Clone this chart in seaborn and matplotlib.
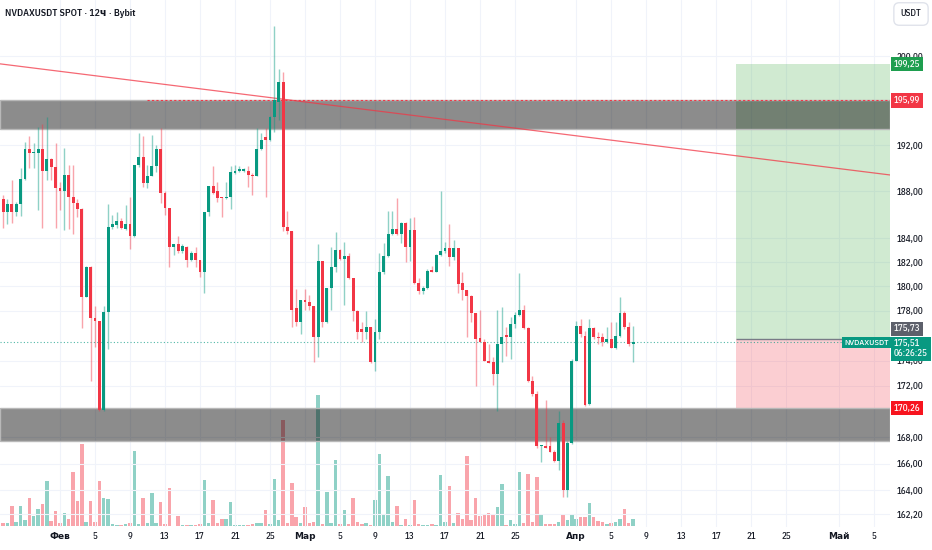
import matplotlib
matplotlib.use('Agg')
import matplotlib.pyplot as plt
import matplotlib.dates as mdates
import numpy as np
import pandas as pd
import seaborn as sns

# 12h candles (USDT)
opens = [187.3, 186.2, 186.9, 186.2, 186.9, 189.1, 191.7, 191.3, 191.3, 191.7,
         189.8, 190.8, 190.1, 188.3, 188.0, 189.4, 187.5, 187.0, 186.5, 179.1,
         181.6, 177.4, 177.2, 170.1, 177.9, 185.0, 185.1, 185.5, 184.8, 185.2,
         184.2, 190.3, 191.0, 188.7, 189.3, 190.2, 191.7, 187.9, 186.6, 183.3,
         183.5, 182.9, 183.3, 182.2, 182.8, 182.2, 181.2, 186.2, 188.5, 188.0,
         187.5, 187.4, 187.5, 189.6, 189.8, 189.8, 189.8, 189.4, 189.3, 191.7,
         192.7, 192.5, 194.5, 195.8, 197.6, 185.0, 184.6, 178.2, 177.1, 178.9,
         178.7, 178.4, 175.9, 182.1, 177.1, 179.9, 181.6, 183.0, 182.3, 182.5,
         180.7, 178.0, 176.5, 176.3, 176.7, 173.9, 176.3, 181.2, 182.5, 184.4,
         184.8, 184.4, 185.3, 183.3, 184.7, 180.3, 179.6, 179.9, 181.3, 181.2,
         182.6, 182.9, 183.2, 182.4, 183.2, 180.3, 179.7, 179.2, 177.8, 175.8,
         175.5, 174.0, 173.9, 172.9, 175.3, 176.0, 175.9, 176.9, 177.7, 178.1,
         176.6, 172.4, 171.4, 167.3, 167.35, 167.3, 166.9, 166.2, 169.1, 164.0,
         167.6, 174.0, 176.8, 176.0, 170.6, 176.6, 175.9, 175.9, 175.5, 175.7,
         175.0, 176.0, 177.8, 176.7, 175.3]
highs = [187.7, 187.3, 189.0, 187.1, 190.0, 192.3, 192.8, 192.2, 193.6, 193.9,
         194.5, 190.9, 192.2, 188.8, 191.8, 190.3, 190.3, 187.3, 186.6, 181.7,
         181.7, 178.4, 177.2, 178.4, 186.9, 186.0, 186.2, 185.7, 186.8, 187.5,
         190.3, 193.1, 192.8, 190.3, 192.9, 192.0, 193.5, 188.0, 186.6, 183.5,
         184.2, 183.5, 183.4, 182.9, 183.3, 182.2, 186.2, 188.5, 190.2, 188.8,
         187.5, 188.8, 190.2, 190.3, 190.2, 190.0, 190.2, 189.6, 193.5, 193.1,
         193.5, 194.6, 202.8, 198.8, 198.5, 186.3, 184.6, 179.8, 178.9, 179.8,
         179.3, 178.4, 183.5, 182.1, 179.9, 183.3, 184.5, 183.1, 183.7, 182.8,
         180.7, 178.1, 177.1, 178.0, 176.7, 177.3, 182.8, 183.6, 186.3, 186.3,
         187.4, 185.4, 185.4, 185.7, 185.8, 180.7, 180.0, 181.4, 181.7, 182.7,
         188.0, 183.7, 185.2, 183.9, 183.2, 181.2, 179.7, 179.3, 177.8, 178.1,
         175.7, 175.3, 174.3, 178.1, 178.3, 176.7, 177.5, 177.9, 181.1, 178.5,
         176.7, 172.8, 171.6, 167.4, 170.9, 168.0, 167.0, 170.0, 169.3, 167.7,
         174.1, 177.2, 177.3, 176.4, 177.3, 176.7, 176.3, 176.2, 176.7, 177.1,
         177.1, 179.1, 178.0, 177.1, 176.8]
lows = [184.9, 185.2, 185.3, 185.9, 185.9, 189.0, 190.0, 190.0, 186.4, 184.9,
        189.0, 189.0, 184.9, 186.4, 184.7, 184.8, 184.4, 185.8, 176.6, 179.1,
        172.4, 175.1, 170.0, 170.0, 174.9, 184.8, 184.9, 184.8, 184.7, 183.1,
        184.1, 190.1, 188.4, 188.3, 189.3, 189.7, 187.0, 186.0, 181.6, 182.6,
        182.8, 182.8, 181.6, 182.1, 181.6, 180.8, 179.5, 185.9, 187.8, 187.1,
        185.8, 187.3, 186.5, 189.5, 189.7, 189.7, 188.4, 187.7, 189.3, 191.6,
        187.5, 192.4, 193.2, 194.2, 184.6, 184.4, 176.7, 176.8, 176.1, 178.1,
        178.1, 173.9, 174.3, 176.7, 177.0, 178.1, 181.2, 182.2, 178.5, 180.6,
        177.2, 175.7, 175.5, 175.7, 173.8, 173.2, 175.7, 181.0, 182.4, 184.3,
        184.3, 183.6, 182.0, 182.1, 180.2, 179.4, 179.4, 179.8, 181.2, 181.2,
        182.5, 182.8, 181.7, 182.2, 179.5, 178.9, 175.9, 177.1, 172.0, 175.5,
        174.0, 173.8, 172.1, 170.0, 173.9, 174.4, 174.1, 176.6, 177.6, 176.5,
        172.3, 171.2, 167.2, 166.1, 167.2, 166.9, 166.1, 165.5, 163.5, 163.5,
        167.5, 174.0, 175.9, 170.4, 170.5, 175.7, 175.3, 175.2, 175.4, 175.0,
        174.9, 175.9, 176.5, 175.2, 173.9]
closes = [186.2, 186.9, 186.2, 186.9, 189.1, 191.7, 191.3, 191.4, 191.7, 189.8,
          190.8, 190.1, 188.3, 188.0, 189.4, 187.5, 187.0, 186.5, 179.1, 181.6,
          177.4, 177.2, 170.1, 177.9, 185.0, 185.2, 185.5, 184.9, 185.2, 184.2,
          190.3, 191.0, 188.7, 189.3, 190.2, 191.7, 187.9, 186.6, 183.3, 183.5,
          182.9, 183.4, 182.2, 182.8, 182.2, 181.2, 186.2, 188.5, 187.9, 187.4,
          187.4, 187.5, 189.7, 189.8, 189.9, 189.9, 189.4, 189.3, 191.7, 192.5,
          192.5, 194.5, 196.0, 197.6, 185.0, 184.6, 178.1, 177.1, 178.9, 178.7,
          178.4, 175.9, 182.1, 177.1, 179.9, 181.6, 183.0, 182.3, 182.5, 180.7,
          178.0, 176.3, 176.3, 176.7, 173.9, 176.3, 181.2, 182.5, 184.4, 184.8,
          184.4, 185.3, 183.3, 184.7, 180.3, 179.6, 179.9, 181.3, 181.2, 182.6,
          182.9, 183.2, 182.4, 183.2, 180.2, 179.7, 179.2, 177.8, 175.7, 175.5,
          174.0, 173.8, 172.9, 175.3, 175.9, 175.9, 176.9, 177.7, 178.1, 176.6,
          172.4, 171.4, 167.3, 167.4, 167.2, 166.9, 166.2, 169.1, 164.0, 167.6,
          174.0, 176.8, 176.1, 170.5, 176.6, 175.9, 175.8, 175.5, 175.7, 175.0,
          176.0, 177.8, 176.7, 175.3, 175.51]
volumes = [2.7, 2.7, 20, 4, 20, 6, 28, 10, 17, 22,
           45, 5, 15, 3, 13, 7, 54, 25, 82, 4,
           25, 4, 45, 28, 27, 2, 1, 1, 2, 3,
           75, 2, 28, 3, 33, 3, 24, 2, 38, 0.5,
           10, 1, 1, 1, 1, 2, 46, 3, 26, 3,
           7, 7, 24, 0.7, 0.7, 0.7, 0.7, 2, 3, 3,
           16, 2, 47, 6, 106, 3, 43, 9, 3, 19,
           3, 4, 131, 2, 34, 3, 66, 2, 16, 2,
           28, 4, 2, 3, 1, 26, 72, 12, 50, 4,
           20, 1, 7, 1, 26, 2, 1, 1, 2, 1,
           51, 4, 40, 3, 13, 7, 70, 6, 28, 10,
           11, 13, 11, 19, 42, 1, 6, 2, 54, 3,
           52, 4, 49, 11, 2, 2, 2, 4, 11, 6,
           11, 7, 9, 9, 23, 9, 5, 4, 2, 3,
           4, 7, 17, 3, 7]

# drawn levels
resist_zone = (193.42, 195.99)
support_zone = (167.7, 170.26)
target_price = 199.25
entry_price = 175.73
stop_price = 170.26
last_price = 175.51
trend_prices = [199.3, 189.4]
trend_dates = ['2026-01-25', '2026-05-07']

tick_dates = ['2026-02-01', '2026-02-05', '2026-02-09', '2026-02-13', '2026-02-17',
              '2026-02-21', '2026-02-25', '2026-03-01', '2026-03-05', '2026-03-09',
              '2026-03-13', '2026-03-17', '2026-03-21', '2026-03-25', '2026-04-01',
              '2026-04-05', '2026-04-09', '2026-04-13', '2026-04-17', '2026-04-21',
              '2026-04-25', '2026-05-01', '2026-05-05']
tick_labels = ['Фев', '5', '9', '13', '17', '21', '25', 'Мар', '5', '9', '13', '17',
               '21', '25', 'Апр', '5', '9', '13', '17', '21', '25', 'Май', '5']
month_labels = ['Фев', 'Мар', 'Апр', 'Май']
price_ticks = [200, 192, 188, 184, 182, 180, 178, 174, 172, 168, 166, 164, 162.2]

UP = '#089981'
DOWN = '#f23645'
TXT = '#131722'

sns.set_theme(style='white')
plt.rcParams['font.family'] = ['IBM Plex Sans Condensed', 'DejaVu Sans']

dates = pd.date_range('2026-01-25 12:00', periods=len(opens), freq='12h')
df = pd.DataFrame({'x': mdates.date2num(dates), 'open': opens, 'high': highs,
                   'low': lows, 'close': closes, 'volume': volumes})
df['color'] = np.where(df['close'] >= df['open'], UP, DOWN)

feb1 = mdates.date2num(pd.Timestamp('2026-02-01'))
x_min = feb1 - 60 / 8.75
x_max = feb1 + 830 / 8.75

fig = plt.figure(figsize=(9.32, 5.5), dpi=100)
ax = fig.add_axes([0, 23 / 550, 890 / 932, 527 / 550])
axv = ax.twinx()
ax.set_zorder(axv.get_zorder() + 1)
ax.patch.set_visible(False)

# volume underneath
axv.bar(df['x'], df['volume'], width=0.4, color=df['color'], alpha=0.45, lw=0)
axv.set_ylim(-1, 526)
axv.axis('off')

ax.set_yscale('log')
ax.set_ylim(161.25, 205.19)
ax.set_xlim(x_min, x_max)

# grid
for d in tick_dates:
    ax.axvline(mdates.date2num(pd.Timestamp(d)), color='#f0f3fa', lw=0.8, zorder=0)
for p in price_ticks:
    ax.axhline(p, color='#f0f3fa', lw=0.8, zorder=0)

# long position box
x_pos = mdates.date2num(pd.Timestamp('2026-04-19 06:00'))
ax.fill_between([x_pos, x_max], entry_price, target_price, color='#4caf50', alpha=0.26, lw=0, zorder=1)
ax.fill_between([x_pos, x_max], stop_price, entry_price, color=DOWN, alpha=0.24, lw=0, zorder=1)
ax.hlines(entry_price, x_pos, x_max, color='#787b86', lw=1, zorder=1.5)

# zones
for lo, hi in [resist_zone, support_zone]:
    ax.axhspan(lo, hi, facecolor=(0, 0, 0, 0.45), edgecolor='#b8b8b8', lw=1, zorder=2)
ax.hlines(resist_zone[1], mdates.date2num(pd.Timestamp('2026-02-11')), x_max,
          color=DOWN, lw=0.8, linestyles=(0, (2, 2)), zorder=2.5)

# trend line
sns.lineplot(x=mdates.date2num(pd.to_datetime(trend_dates)), y=trend_prices, ax=ax,
             color=DOWN, lw=0.9, alpha=0.75, zorder=2.6)

# last price line
ax.axhline(last_price, color=UP, lw=0.8, ls=(0, (1, 2)), alpha=0.7, zorder=2.7)

# candles
ax.vlines(df['x'], df['low'], df['high'], colors=df['color'], lw=1, alpha=0.45, zorder=3)
body_lo = np.minimum(df['open'], df['close'])
body_h = np.maximum(np.abs(df['close'] - df['open']), 0.12)
ax.bar(df['x'], body_h, bottom=body_lo, width=0.34, color=df['color'], lw=0, zorder=4)

# axes styling
for s in ax.spines.values():
    s.set_visible(False)
ax.yaxis.tick_right()
ax.set_yticks(price_ticks)
ax.set_yticklabels([f'{p:.2f}'.replace('.', ',') for p in price_ticks])
ax.yaxis.set_minor_locator(matplotlib.ticker.NullLocator())
ax.tick_params(axis='y', length=0, pad=5, labelsize=6.5, labelcolor=TXT)
ax.set_xticks(mdates.date2num(pd.to_datetime(tick_dates)))
ax.set_xticklabels(tick_labels)
ax.tick_params(axis='x', length=0, pad=3.5, labelsize=6.5, labelcolor=TXT)
for lab in ax.get_xticklabels() + ax.get_yticklabels():
    lab.set_fontweight('bold' if lab.get_text() in month_labels else 'medium')
ax.set_xlabel('')
ax.set_ylabel('')
ax.set_xlim(x_min, x_max)

# price tags on the scale
def tag(price, text, color, dy=0):
    ax.annotate(text, xy=(1, price), xycoords=ax.get_yaxis_transform(),
                xytext=(4, dy), textcoords='offset pixels', ha='left', va='center',
                fontsize=6.5, color='white', zorder=10, annotation_clip=False,
                linespacing=1.1, fontweight='medium',
                bbox=dict(boxstyle='square,pad=0.3', fc=color, ec='none'))

tag(target_price, '199,25', '#1e9e4f')
tag(resist_zone[1], '195,99', DOWN)
tag(entry_price, '175,73', '#5d606b', dy=10)
tag(last_price, '175,51\n06:26:25', UP, dy=-7)
tag(stop_price, '170,26', '#f7141e')

ax.annotate('NVDAXUSDT', xy=(889 / 890, last_price), xycoords=ax.get_yaxis_transform(),
            xytext=(0, -1), textcoords='offset pixels', ha='right', va='center',
            fontsize=6, color='white', zorder=10, fontweight='medium',
            bbox=dict(boxstyle='square,pad=0.25', fc=UP, ec='none'))

fig.text(5 / 932, 1 - 14 / 550, 'NVDAXUSDT SPOT · 12ч · Bybit', ha='left', va='center',
         fontsize=7, color=TXT, fontweight='semibold')
fig.text(911 / 932, 1 - 14 / 550, 'USDT', ha='center', va='center', fontsize=6.5, color=TXT,
         fontweight='medium',
         bbox=dict(boxstyle='round,pad=0.75,rounding_size=0.6', fc='white', ec='#e0e3eb', lw=1))

fig.savefig('out.png', dpi=100, facecolor='white')
